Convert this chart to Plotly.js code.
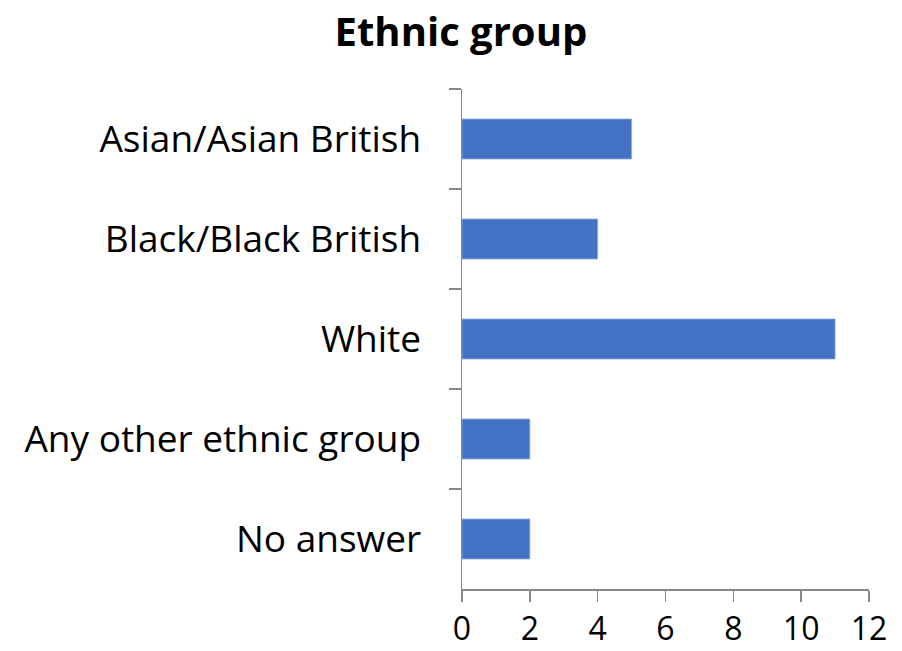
<!DOCTYPE html>
<html>
<head>
<meta charset="utf-8">
<script src="https://cdn.plot.ly/plotly-3.0.1.min.js"></script>
<style>html,body{margin:0;padding:0;background:#fff;}#chart{width:902px;height:651px;}</style>
</head>
<body>
<div id="chart"></div>
<script>
const categories = ["Asian/Asian British", "Black/Black British", "White", "Any other ethnic group", "No answer"];
const counts = [5, 4, 11, 2, 2];
const xTicks = [0, 2, 4, 6, 8, 10, 12];

const FONT = "'Open Sans', Lato, sans-serif";

Plotly.newPlot('chart', [{
  type: 'bar',
  orientation: 'h',
  y: categories,
  x: counts,
  marker: {color: '#4472C4', line: {color: '#8faadc', width: 0.8}},
  hoverinfo: 'none'
}], {
  width: 902, height: 651,
  margin: {l: 462, r: 33, t: 89, b: 62, pad: 0},
  paper_bgcolor: '#ffffff', plot_bgcolor: '#ffffff',
  bargap: 0.6,
  showlegend: false,
  title: {
    text: '<b>Ethnic group</b>',
    font: {family: FONT, size: 40, color: '#000000'},
    xref: 'container', x: 0.511, xanchor: 'center',
    yref: 'container', y: 0.951, yanchor: 'middle'
  },
  xaxis: {
    range: [0, 12],
    tickvals: xTicks,
    ticktext: xTicks.map(String),
    showgrid: false, zeroline: false,
    showline: true, linecolor: '#888888', linewidth: 1.5,
    ticks: 'outside', ticklen: 11, tickwidth: 1.5, tickcolor: '#888888',
    tickfont: {family: FONT, size: 32, color: '#000000'},
    ticklabelstandoff: 0,
    fixedrange: true
  },
  yaxis: {
    type: 'category',
    categoryorder: 'array',
    categoryarray: categories,
    autorange: 'reversed',
    tickson: 'boundaries',
    showgrid: false, zeroline: false,
    showline: true, linecolor: '#888888', linewidth: 1.5,
    ticks: 'outside', ticklen: 12, tickwidth: 1.5, tickcolor: '#888888',
    tickfont: {family: FONT, size: 37, color: '#000000'},
    ticklabelstandoff: 32,
    fixedrange: true
  }
}, {staticPlot: true, displayModeBar: false});
</script>
</body>
</html>
